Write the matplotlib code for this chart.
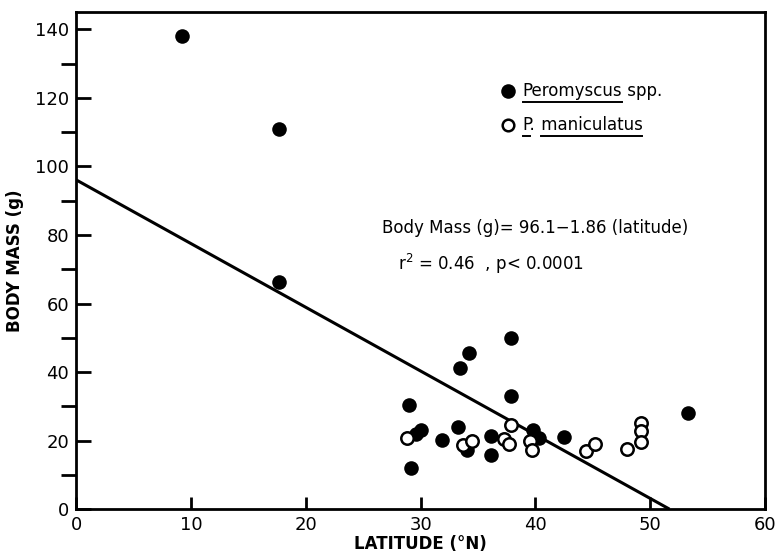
import numpy as np
import matplotlib
matplotlib.use("Agg")
import matplotlib.pyplot as plt

# Peromyscus spp. (filled) and P. maniculatus (open)
pero_lat = [9.2, 17.7, 17.7, 37.9, 34.2, 33.4, 37.9, 29.0, 29.6, 30.0,
            31.9, 33.3, 29.2, 34.0, 36.1, 36.1, 39.8, 40.3, 42.5, 53.3]
pero_mass = [138.0, 111.0, 66.3, 49.8, 45.6, 41.2, 33.0, 30.5, 22.0, 23.0,
             20.1, 24.0, 12.0, 17.2, 21.4, 15.9, 23.0, 20.8, 21.1, 27.9]

mani_lat = [28.8, 33.7, 34.5, 37.9, 37.3, 37.7, 39.5, 39.7, 44.4, 45.2,
            48.0, 49.2, 49.2, 49.2]
mani_mass = [20.8, 18.7, 19.8, 24.4, 20.6, 18.9, 19.8, 17.2, 16.9, 19.0,
             17.4, 25.2, 22.8, 19.6]

# regression: body mass = 96.1 - 1.86 * latitude
intercept = 96.1
slope = -1.86

fig = plt.figure(figsize=(7.76, 5.57), dpi=100)
ax = fig.add_axes([0.098, 0.086, 0.888, 0.892])

x_end = -intercept / slope
xs = np.array([0.0, x_end])
ax.plot(xs, intercept + slope * xs, color="black", lw=2.2, zorder=2,
        solid_capstyle="butt")

ax.scatter(pero_lat, pero_mass, s=110, color="black", zorder=3, lw=0)
ax.scatter(mani_lat, mani_mass, s=80, facecolor="white", edgecolor="black",
           lw=1.8, zorder=4)

ax.set_xlim(0, 60)
ax.set_ylim(0, 145)
ax.set_xticks([0, 10, 20, 30, 40, 50, 60])
ax.set_yticks(range(0, 141, 20))
ax.set_yticks(range(10, 141, 20), minor=True)
ax.tick_params(axis="both", direction="in", width=2, labelsize=13, pad=5)
ax.tick_params(axis="y", which="both", length=11, width=2)
ax.tick_params(axis="x", length=9)
for sp in ax.spines.values():
    sp.set_linewidth(2)

ax.set_xlabel("LATITUDE (°N)", fontsize=12, fontweight="bold", labelpad=1)
ax.set_ylabel("BODY MASS (g)", fontsize=12, fontweight="bold", labelpad=8)

# legend drawn by hand, with underlined names
ax.scatter([37.6], [122], s=110, color="black", lw=0, clip_on=False)
ax.scatter([37.6], [112], s=70, facecolor="white", edgecolor="black", lw=1.8)
t1 = ax.text(38.9, 122, "Peromyscus", fontsize=12, va="center")
t1b = ax.text(0, 122, " spp.", fontsize=12, va="center")
t2a = ax.text(38.9, 112, "P.", fontsize=12, va="center")
t2 = ax.text(0, 112, " maniculatus", fontsize=12, va="center")

fig.canvas.draw()
r = fig.canvas.get_renderer()
inv = ax.transData.inverted()


def ext(t):
    bb = t.get_window_extent(renderer=r)
    (x0, y0), (x1, y1) = inv.transform([[bb.x0, bb.y0], [bb.x1, bb.y1]])
    return x0, y0, x1, y1


x0, y0, x1, y1 = ext(t1)
t1b.set_x(x1)
x0, y0, x1, y1 = ext(t2a)
t2.set_x(x1)
fig.canvas.draw()

# underline "Peromyscus", the "P" and "maniculatus"
x0, y0, x1, y1 = ext(t1)
ax.plot([x0, x1], [y0 - 0.6, y0 - 0.6], color="black", lw=1.4)
x0, y0, x1, y1 = ext(t2a)
ax.plot([x0, x0 + (x1 - x0) * 0.6], [y0 - 0.6, y0 - 0.6], color="black", lw=1.4)
x0, y0, x1, y1 = ext(t2)
bw = ext(t2a)
x0 = x0 + (bw[2] - bw[0]) * 0.4
ax.plot([x0, x1], [y0 - 0.6, y0 - 0.6], color="black", lw=1.4)

ax.text(26.6, 82, "Body Mass (g)= 96.1\u22121.86 (latitude)", fontsize=12,
        va="center")
ax.text(28.0, 71.5, "r$^2$ = 0.46  , p< 0.0001", fontsize=12, va="center")

fig.savefig("out.png", dpi=100)
